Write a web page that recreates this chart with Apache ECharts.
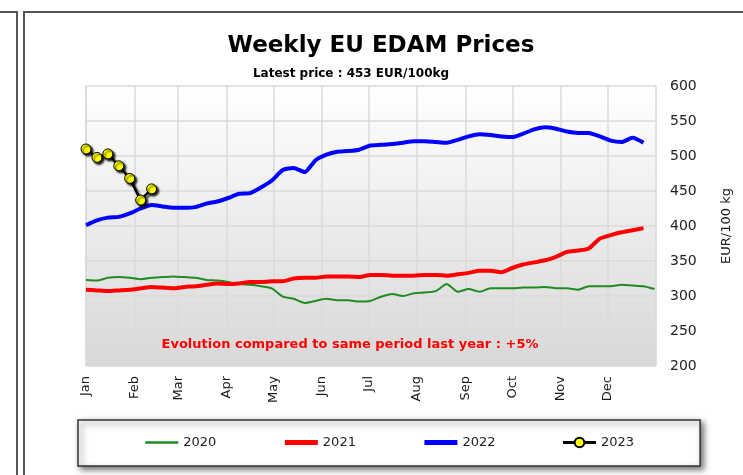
<!DOCTYPE html>
<html>
<head>
<meta charset="utf-8">
<script src="https://cdn.jsdelivr.net/npm/echarts@6/dist/echarts.min.js"></script>
<style>
  html, body { margin: 0; padding: 0; background: #fff; }
  #chart { width: 743px; height: 475px; }
</style>
</head>
<body>
<div id="chart"></div>
<script>
// weekly prices, EUR/100kg, week 1 = first week of January
const prices2020 = [323, 322, 326, 327, 326, 324, 326, 327, 328, 327, 326, 323, 322, 320, 317, 316, 314, 311, 299, 296,
  290, 293, 296, 294, 294, 292, 293, 299, 303, 300, 304, 305, 307, 317, 306, 310, 306, 311, 311, 311,
  312, 312, 313, 311, 311, 309, 314, 314, 314, 316, 315, 314, 310];
const prices2021 = [309, 308, 307, 308, 309, 311, 313, 312, 311, 313, 314, 316, 318, 317, 318, 320, 320, 321, 321, 325,
  326, 326, 328, 328, 328, 327, 330, 330, 329, 329, 329, 330, 330, 329, 331, 333, 336, 336, 334, 340,
  345, 348, 351, 356, 363, 365, 368, 382, 387, 391, 394, 397];
const prices2022 = [401, 408, 412, 413, 418, 425, 430, 428, 426, 426, 427, 432, 435, 440, 446, 447, 455, 465, 480, 483,
  477, 494, 502, 506, 507, 509, 515, 516, 517, 519, 521, 521, 520, 519, 523, 528, 531, 530, 528, 527,
  532, 538, 541, 539, 535, 533, 533, 528, 522, 520, 526, 519];
const prices2023 = [510, 498, 503, 486, 468, 437, 453];

const seriesNames = ['2020', '2021', '2022', '2023'];
const monthLabels = ['Jan', 'Feb', 'Mar', 'Apr', 'May', 'Jun', 'Jul', 'Aug', 'Sep', 'Oct', 'Nov', 'Dec'];
const yTicks = [200, 250, 300, 350, 400, 450, 500, 550, 600];

const font = 'DejaVu Sans';

function toWeekly(values) {
  return values.map((v, i) => [new Date(2023, 0, 1 + 7 * i).getTime(), v]);
}

const chart = echarts.init(document.getElementById('chart'));

// only 2023 keeps its marker in the legend
const legendData = [
  { name: seriesNames[0], itemStyle: { opacity: 0 }, lineStyle: { width: 2.5 } },
  { name: seriesNames[1], itemStyle: { opacity: 0 }, lineStyle: { width: 5 } },
  { name: seriesNames[2], itemStyle: { opacity: 0 }, lineStyle: { width: 5 } },
  { name: seriesNames[3], lineStyle: { width: 3 } },
];

const option = {
  animation: false,
  backgroundColor: '#fff',
  grid: {
    left: 86,
    right: 87,
    top: 86,
    bottom: 109,
    show: true,
    borderWidth: 0,
    backgroundColor: new echarts.graphic.LinearGradient(0, 0, 0, 1, [
      { offset: 0, color: '#ffffff' },
      { offset: 1, color: '#d8d8d8' },
    ]),
  },
  graphic: [
    {
      type: 'rect',
      shape: { x: -10, y: 12, width: 27, height: 480 },
      style: { fill: 'none', stroke: '#555', lineWidth: 2 },
    },
    {
      type: 'rect',
      shape: { x: 24, y: 12, width: 740, height: 480 },
      style: { fill: 'none', stroke: '#555', lineWidth: 2 },
    },
    {
      type: 'text',
      x: 381,
      y: 46,
      style: {
        text: 'Weekly EU EDAM Prices',
        font: 'bold 23px "DejaVu Sans"',
        fill: '#000',
        textAlign: 'center',
        textVerticalAlign: 'middle',
      },
    },
    {
      type: 'text',
      x: 351,
      y: 74,
      style: {
        text: 'Latest price : 453 EUR/100kg',
        font: 'bold 12px "DejaVu Sans"',
        fill: '#000',
        textAlign: 'center',
        textVerticalAlign: 'middle',
      },
    },
    {
      type: 'text',
      x: 350,
      y: 345,
      z: 10,
      style: {
        text: 'Evolution compared to same period last year : +5%',
        font: 'bold 13px "DejaVu Sans"',
        fill: '#ff0000',
        textAlign: 'center',
        textVerticalAlign: 'middle',
      },
    },
  ],
  legend: {
    data: legendData,
    left: 78,
    top: 420,
    padding: [16, 66, 17, 66],
    itemGap: 66,
    itemWidth: 33,
    itemHeight: 12,
    backgroundColor: '#fff',
    borderColor: '#333',
    borderWidth: 1.5,
    shadowColor: 'rgba(0,0,0,0.55)',
    shadowBlur: 6,
    shadowOffsetX: 3,
    shadowOffsetY: 3,
    textStyle: { fontFamily: font, fontSize: 13, color: '#222' },
  },
  xAxis: {
    type: 'time',
    min: new Date(2023, 0, 1).getTime(),
    max: new Date(2024, 0, 1).getTime(),
    splitNumber: 12,
    minInterval: 28 * 86400000,
    maxInterval: 31 * 86400000,
    axisLine: { show: false },
    axisTick: { show: false },
    splitLine: { show: true, lineStyle: { color: '#dadada', width: 1.5 } },
    axisLabel: {
      rotate: 90,
      margin: 10,
      fontFamily: font,
      fontSize: 13,
      color: '#1a1a1a',
      showMaxLabel: false,
      hideOverlap: false,
      formatter: (val) => {
        const d = new Date(val);
        return d.getFullYear() === 2023 ? monthLabels[d.getMonth()] : '';
      },
    },
  },
  yAxis: {
    type: 'value',
    position: 'right',
    min: yTicks[0],
    max: yTicks[yTicks.length - 1],
    interval: 50,
    name: 'EUR/100 kg',
    nameLocation: 'middle',
    nameRotate: 90,
    nameGap: 64,
    nameTextStyle: { fontFamily: font, fontSize: 13, color: '#222' },
    axisLine: { show: false },
    axisTick: { show: false },
    splitLine: { show: true, lineStyle: { color: '#dadada', width: 1.5 } },
    axisLabel: { margin: 14, fontFamily: font, fontSize: 14, color: '#222' },
  },
  series: [
    {
      name: '2020',
      type: 'line',
      data: toWeekly(prices2020),
      symbol: 'none',
      smooth: 0.2,
      color: '#1f8c1f',
      lineStyle: { width: 2, color: '#1f8c1f' },
    },
    {
      name: '2021',
      type: 'line',
      data: toWeekly(prices2021),
      symbol: 'none',
      smooth: 0.2,
      color: '#ff0000',
      lineStyle: { width: 4, color: '#ff0000' },
    },
    {
      name: '2022',
      type: 'line',
      data: toWeekly(prices2022),
      symbol: 'none',
      smooth: 0.2,
      color: '#0000ff',
      lineStyle: { width: 4, color: '#0000ff' },
    },
    {
      name: '2023',
      type: 'line',
      data: toWeekly(prices2023),
      symbol: 'circle',
      symbolSize: 10,
      showAllSymbol: true,
      color: '#000',
      lineStyle: {
        width: 2.5,
        color: '#000',
        shadowColor: 'rgba(0,0,0,0.7)',
        shadowBlur: 2,
        shadowOffsetX: 2,
        shadowOffsetY: 2,
      },
      itemStyle: {
        color: '#ffff00',
        borderColor: '#000',
        borderWidth: 1,
        shadowColor: 'rgba(0,0,0,0.9)',
        shadowBlur: 2,
        shadowOffsetX: 2,
        shadowOffsetY: 2,
      },
      z: 5,
    },
  ],
};

chart.setOption(option);
</script>
</body>
</html>
